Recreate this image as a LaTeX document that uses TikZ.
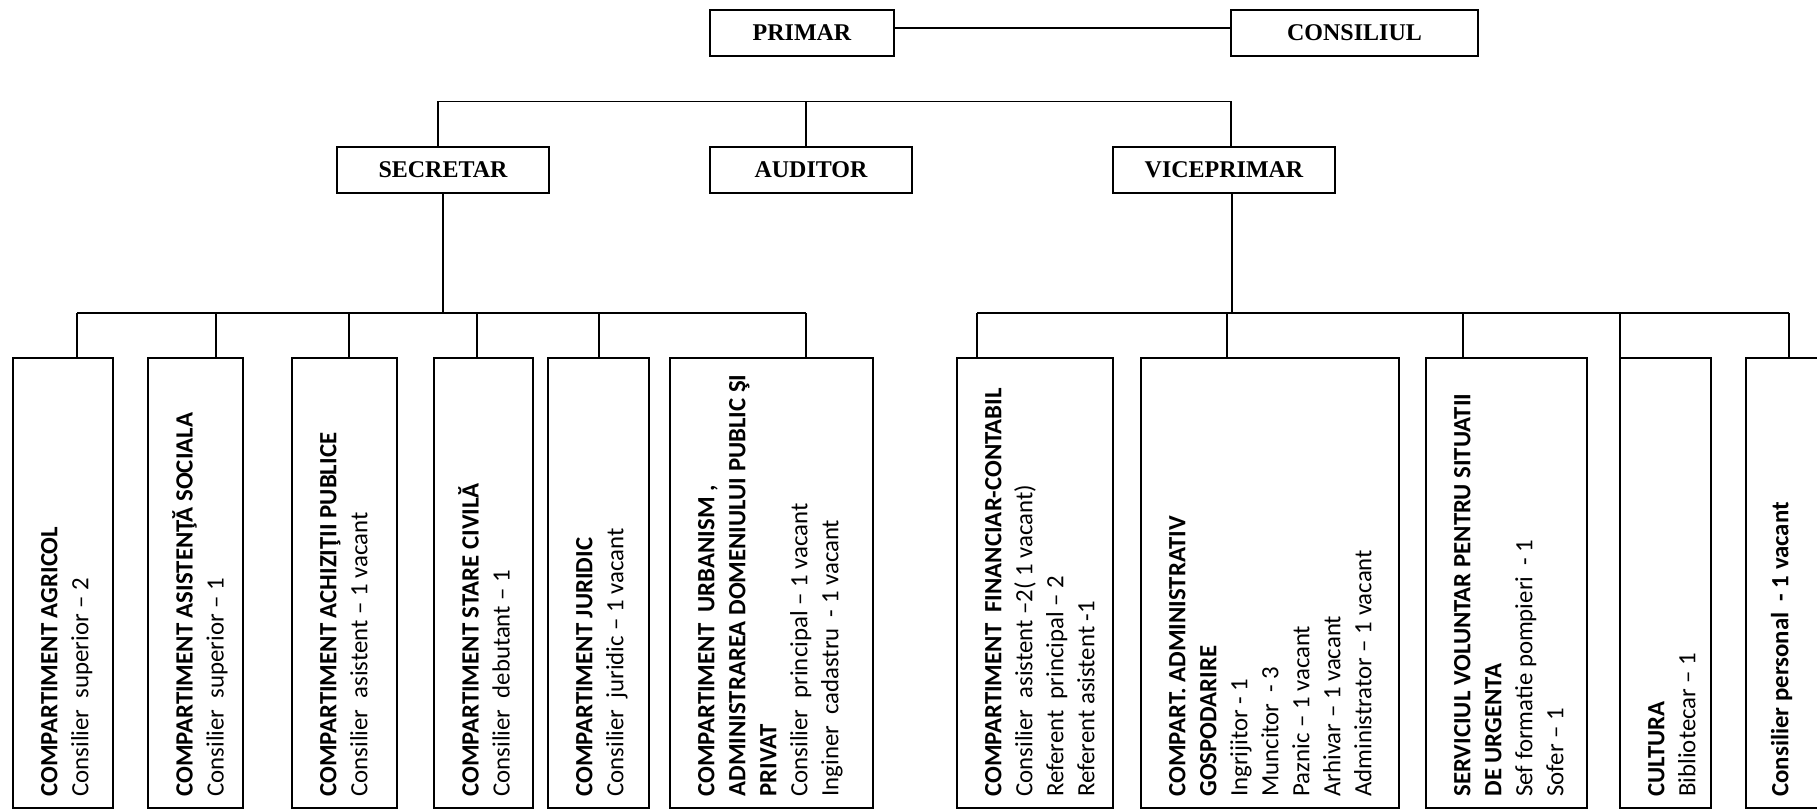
\documentclass[tikz,border=0pt]{standalone}
\usepackage{fontspec}
\setmainfont{Liberation Serif}
\newfontfamily\carlito{Carlito}
\usepackage{tikz}
\usetikzlibrary{positioning, calc}

\begin{document}
\begin{tikzpicture}[x=0.5pt, y=-0.5pt,
    head/.style={draw, line width=1pt, inner sep=0pt, outer sep=0pt, minimum height=23pt, font=\bfseries\fontsize{12}{14}\selectfont},
    unit/.style={draw, line width=1pt, inner sep=0pt, outer sep=0pt, minimum height=225pt},
    unittext/.style={rotate=90, anchor=north west, inner sep=0pt, align=left, font=\carlito\fontsize{12.4}{15.5}\selectfont},
    link/.style={line width=0.8pt}]
  \useasboundingbox (0,0) rectangle (1817,810);
  \clip (0,0) rectangle (1817,810);

  % Top management
  \node[head, minimum width=92pt] (primar) at (802,33) {PRIMAR};
  \node[head, minimum width=123.5pt] (consiliul) at (1354.5,33) {CONSILIUL};
  \node[head, minimum width=106pt] (secretar) at (443,169.5) {SECRETAR};
  \node[head, minimum width=101pt] (auditor) at (811,169.5) {AUDITOR};
  \node[head, minimum width=111pt] (viceprimar) at (1224,169.5) {VICEPRIMAR};

  \draw[link] ([yshift=2.5pt]primar.east) -- ([yshift=2.5pt]primar.east -| consiliul.west);
  \draw[link] ([xshift=-2.5pt]secretar.north) -- ++(0,-45) coordinate (bus-l)
    -- (bus-l -| consiliul.west) coordinate (bus-r) -- (bus-r |- viceprimar.north);
  \draw[link] ([xshift=-2.5pt]auditor.north) -- ([xshift=-2.5pt]auditor.north |- bus-l);

  % Compartments under the secretar
  \node[unit, minimum width=50pt] (agricol) at (63,583) {};
  \node[unit, minimum width=47.5pt] (asist) at (195.5,583) {};
  \node[unit, minimum width=52.5pt] (achiz) at (344.5,583) {};
  \node[unit, minimum width=49.5pt] (civila) at (483.5,583) {};
  \node[unit, minimum width=50.5pt] (juridic) at (598.5,583) {};
  \node[unit, minimum width=101.5pt] (urban) at (771.5,583) {};

  \node[unittext] (agricol-txt) at ([xshift=12pt, yshift=5.5pt]agricol.south west) {\rule{0pt}{10pt}\textbf{COMPARTIMENT AGRICOL}\\Consilier~ superior – 2};
  \node[unittext] (asist-txt) at ([xshift=12pt, yshift=5.5pt]asist.south west) {\rule{0pt}{10pt}\textbf{COMPARTIMENT ASISTENŢĂ SOCIALA}\\Consilier~ superior – 1};
  \node[unittext] (achiz-txt) at ([xshift=12pt, yshift=5.5pt]achiz.south west) {\rule{0pt}{10pt}\textbf{COMPARTIMENT ACHIZIŢII PUBLICE}\\Consilier~ asistent – 1 vacant};
  \node[unittext] (civila-txt) at ([xshift=12pt, yshift=5.5pt]civila.south west) {\rule{0pt}{10pt}\textbf{COMPARTIMENT STARE CIVILĂ}\\Consilier~ debutant – 1};
  \node[unittext] (juridic-txt) at ([xshift=12pt, yshift=5.5pt]juridic.south west) {\rule{0pt}{10pt}\textbf{COMPARTIMENT JURIDIC}\\Consilier~ juridic – 1 vacant};
  \node[unittext] (urban-txt) at ([xshift=12pt, yshift=5.5pt]urban.south west) {\rule{0pt}{10pt}\textbf{COMPARTIMENT~ URBANISM ,}\\\textbf{ADMINISTRAREA DOMENIULUI PUBLIC ŞI}\\\textbf{PRIVAT}\\Consilier~ principal – 1 vacant\\Inginer~ cadastru~ - 1 vacant};

  \foreach \u/\d in {agricol/32, asist/34, achiz/28.5, civila/21.5, juridic/25.5, urban/68}
    \draw[link] ([xshift=\d pt]\u.north west) -- ++(0,-45) coordinate (\u-top);
  \draw[link] (agricol-top) -- (urban-top);
  \draw[link] (secretar.south) -- (secretar.south |- agricol-top);

  % Compartments under the viceprimar
  \node[unit, minimum width=78pt] (financiar) at (1035,583) {};
  \node[unit, minimum width=129pt] (gospodarire) at (1270,583) {};
  \node[unit, minimum width=80.5pt] (urgenta) at (1506.5,583) {};
  \node[unit, minimum width=45.5pt] (cultura) at (1665.5,583) {};
  \node[unit, minimum width=47.5pt] (personal) at (1793.5,583) {};

  \node[unittext] (financiar-txt) at ([xshift=12pt, yshift=5.5pt]financiar.south west) {\rule{0pt}{10pt}\textbf{COMPARTIMENT~ FINANCIAR-CONTABIL}\\Consilier~ asistent –2( 1 vacant)\\Referent~ principal – 2\\Referent asistent -1};
  \node[unittext] (gospodarire-txt) at ([xshift=12pt, yshift=5.5pt]gospodarire.south west) {\rule{0pt}{10pt}\textbf{COMPART. ADMINISTRATIV}\\\textbf{GOSPODARIRE}\\Ingrijitor - 1\\Muncitor~ - 3\\Paznic – 1 vacant\\Arhivar – 1 vacant\\Administrator – 1 vacant};
  \node[unittext] (urgenta-txt) at ([xshift=12pt, yshift=5.5pt]urgenta.south west) {\rule{0pt}{10pt}\textbf{SERVICIUL VOLUNTAR PENTRU SITUATII}\\\textbf{DE URGENTA}\\Sef formatie pompieri~ - 1\\Sofer – 1};
  \node[unittext] (cultura-txt) at ([xshift=12pt, yshift=5.5pt]cultura.south west) {\rule{0pt}{10pt}\textbf{CULTURA}\\Bibliotecar – 1};
  \node[unittext] (personal-txt) at ([xshift=11pt, yshift=5.5pt]personal.south west) {\rule{0pt}{10pt}\textbf{Consilier personal~ - 1 vacant}};

  \foreach \u/\d in {financiar/10, gospodarire/43, urgenta/18.5, cultura/0, personal/21.5}
    \draw[link] ([xshift=\d pt]\u.north west) -- ++(0,-45) coordinate (\u-top);
  \draw[link] (financiar-top) -- (personal-top);
  \draw[link] ([xshift=4pt]viceprimar.south) -- ([xshift=4pt]viceprimar.south |- financiar-top);
\end{tikzpicture}
\end{document}
